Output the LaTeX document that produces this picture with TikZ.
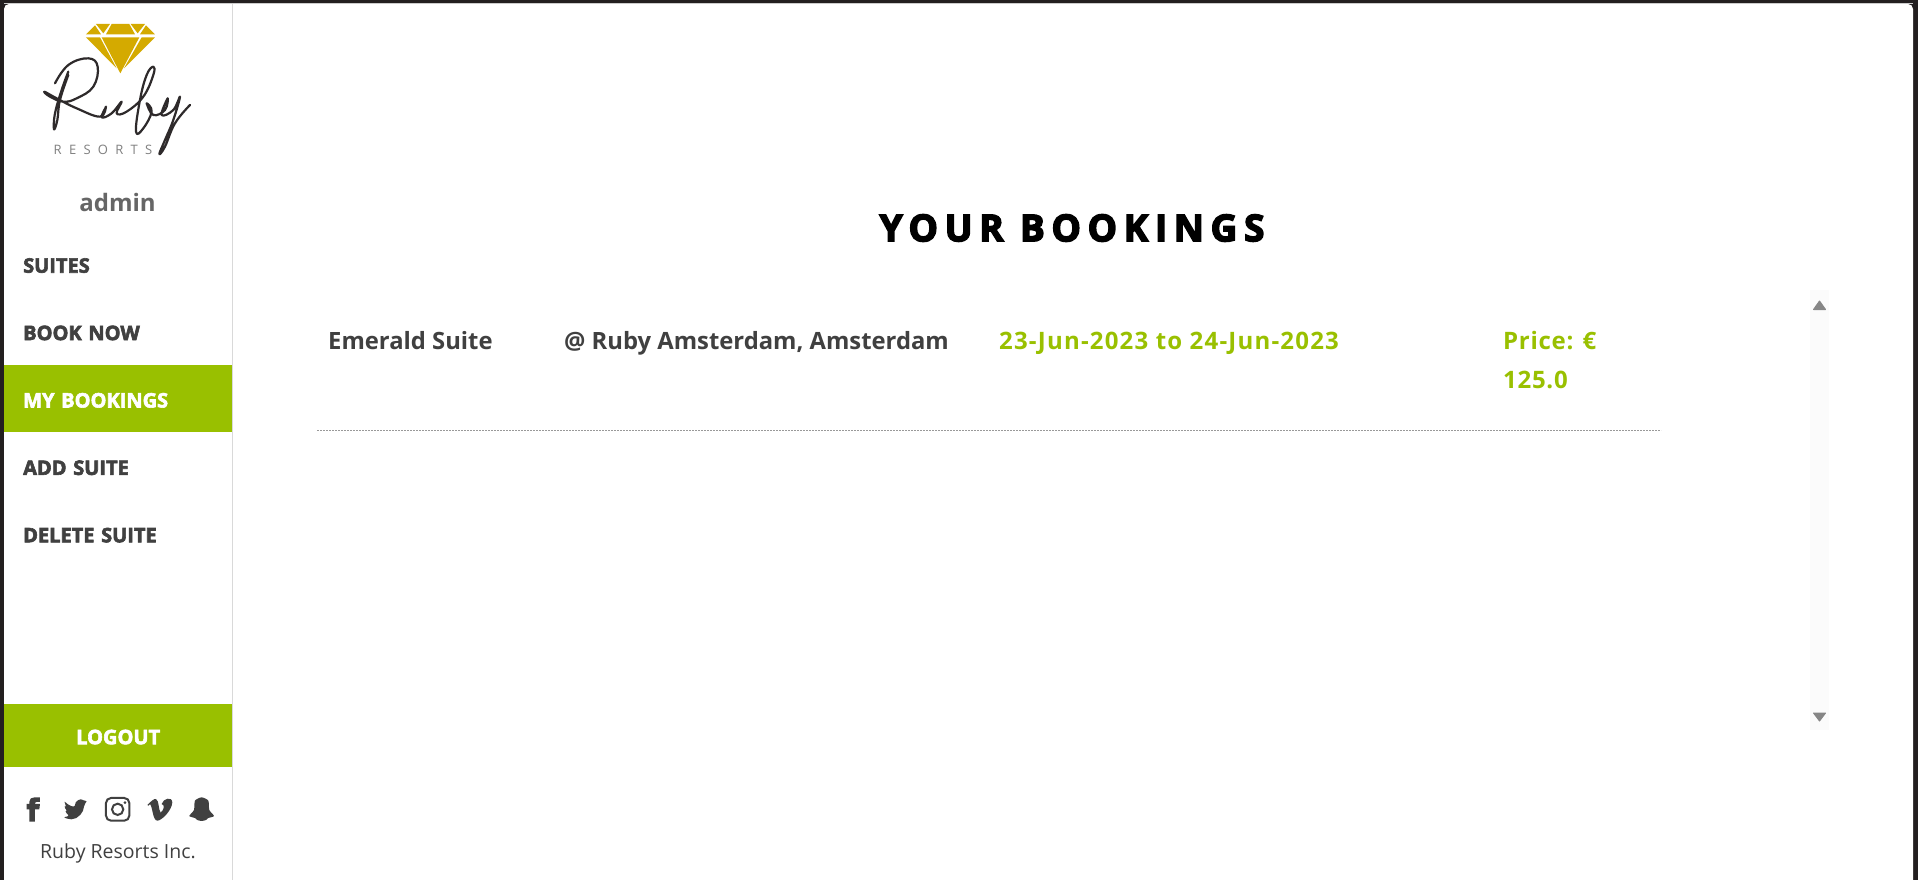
\documentclass[tikz,border=0pt]{standalone}
\usepackage{fontspec}
\usepackage{tikz}
\usetikzlibrary{positioning}
\setmainfont{Open Sans}
\newfontfamily\blackfont{Open Sans}[BoldFeatures={FakeBold=3}]
\newfontfamily\titlefont{Open Sans}[LetterSpace=18,BoldFeatures={FakeBold=4}]
\newfontfamily\spacedfont{Open Sans}[LetterSpace=56]
\newfontfamily\widefont{Open Sans}[LetterSpace=3]
\newfontfamily\datefont{Open Sans}[LetterSpace=5]
\definecolor{framedark}{RGB}{35, 31, 32}
\definecolor{accentgreen}{RGB}{153, 192, 0}
\definecolor{textdark}{RGB}{64, 64, 64}
\definecolor{diamondgold}{RGB}{212, 170, 0}

\begin{document}
\begin{tikzpicture}[
            x=1pt, y=-1pt,
            navitem/.style={minimum width=228pt, minimum height=67pt, inner xsep=19pt, inner ysep=0pt, text width=190pt, align=left, text height=19pt, text depth=0pt, text=textdark, font=\blackfont\bfseries\fontsize{20}{22}\selectfont},
            rowtext/.style={anchor=west, inner sep=0pt, text=textdark, text height=17pt, text depth=5pt, font=\bfseries\fontsize{23.8}{26}\selectfont},
            greentext/.style={rowtext, text=accentgreen, font=\widefont\bfseries\fontsize{24}{26}\selectfont},
            scrollarrow/.style={fill=gray!95, draw=gray!95, line width=1pt, line join=round},
            rubyline/.style={draw=framedark!95, line width=2.2pt, line cap=round, line join=round}
        ]
            \useasboundingbox (0,0) rectangle (1918,880);
            \fill[framedark] (0,0) rectangle (1918,880);
            \fill[white, rounded corners=5pt] (4,4) rectangle (1913,890);
            \draw[gray!40] (4,3.5) -- (1913,3.5);
            \draw[gray!30, line width=1.5pt] (232.5,4) -- (232.5,880);

            % logo
            \begin{scope}[x=0.3333pt, y=-0.3333pt]
                \fill[diamondgold] (258,103) -- (285,76) -- (303,103) -- cycle;
                \fill[diamondgold] (288,72) -- (330,72) -- (310,100) -- cycle;
                \fill[diamondgold] (335,72) -- (388,72) -- (405,103) -- (318,103) -- cycle;
                \fill[diamondgold] (392,72) -- (435,72) -- (413,100) -- cycle;
                \fill[diamondgold] (420,103) -- (438,76) -- (465,103) -- cycle;
                \fill[diamondgold] (258,112) -- (300,112) -- (350,205) -- cycle;
                \fill[diamondgold] (305,112) -- (418,112) -- (361,220) -- cycle;
                \fill[diamondgold] (425,112) -- (465,112) -- (372,205) -- cycle;
                \draw[rubyline] plot[smooth, tension=0.7] coordinates {(205,215) (185,270) (165,340) (162,388) (172,360) (180,300) (205,225)};
                \draw[rubyline] plot[smooth, tension=0.7] coordinates {(165,250) (205,195) (265,175) (293,200) (280,260) (230,295) (190,305) (150,290) (133,275) (170,295) (230,325) (300,350) (318,320) (305,352) (335,340) (365,305) (350,340) (380,335) (430,290) (460,225) (460,200) (440,225) (420,300) (408,395) (430,385) (455,335) (440,310) (460,345) (495,330) (503,295) (485,345) (520,330) (540,290) (520,360) (495,420) (478,462) (495,440) (525,370) (570,315)};
            \end{scope}
            \node[anchor=center, inner sep=0pt, text=gray, font=\spacedfont\fontsize{13}{14}\selectfont] (resorts) at (103,149.5) {RESORTS};
            \node[inner sep=0pt, text=textdark!80, font=\bfseries\fontsize{24}{28}\selectfont] (user) at (117.5,202) {admin};

            % side menu
            \node[navitem, anchor=north west] (suites) at (4,229.5) {SUITES};
            \node[navitem, below=0pt of suites] (booknow) {BOOK NOW};
            \node[navitem, below=0pt of booknow, fill=accentgreen, text=white] (mybookings) {MY BOOKINGS};
            \node[navitem, below=0pt of mybookings] (addsuite) {ADD SUITE};
            \node[navitem, below=0pt of addsuite] (deletesuite) {DELETE SUITE};
            \node[navitem, anchor=north west, minimum height=63pt, fill=accentgreen, text=white, align=center, text height=17pt] (logout) at (4,704) {LOGOUT};

            % social icons
            \begin{scope}[x=0.3333pt, y=-0.3333pt, yshift=-690pt]
                \fill[textdark] (88,395) -- (88,358) -- (80,358) -- (80,342) -- (88,342) -- (88,335) .. controls (88,326) and (95,322) .. (104,322) -- (120,322) -- (120,336) -- (110,336) .. controls (106,336) and (105,338) .. (105,342) -- (120,342) -- (118,358) -- (105,358) -- (105,395) -- cycle;
                \fill[textdark, rounded corners=2pt] (262,333) -- (252,344) .. controls (252,365) and (235,388) .. (208,388) -- (190,382) -- (208,378) -- (195,365) -- (202,364) -- (192,350) -- (199,351) -- (192,332) .. controls (202,343) and (213,349) .. (226,350) .. controls (224,335) and (242,322) .. (254,335) -- cycle;
                \draw[textdark, line width=2pt, rounded corners=5pt] (318,324) rectangle (388,392);
                \draw[textdark, line width=2pt] (353,358) circle (17);
                \fill[textdark] (375,338) circle (4.5);
                \fill[textdark] (442,345) .. controls (452,335) and (462,325) .. (468,327) .. controls (478,332) and (475,360) .. (482,368) .. controls (490,362) and (497,345) .. (485,342) .. controls (490,325) and (517,318) .. (517,338) .. controls (515,362) and (485,392) .. (472,392) .. controls (458,392) and (458,350) .. (450,342) -- (446,347) -- cycle;
                \fill[textdark] plot[smooth cycle, tension=0.4] coordinates {(605,322) (625,332) (628,360) (642,378) (625,384) (618,390) (605,393) (592,390) (585,384) (568,378) (582,360) (585,332)};
            \end{scope}
            \node[inner sep=0pt, text=textdark, font=\fontsize{19.5}{24}\selectfont] (company) at (118,853) {Ruby Resorts Inc.};

            % bookings
            \node[inner sep=0pt, text=black, font=\titlefont\bfseries\fontsize{37}{44}\selectfont] (title) at (1072,228) {YOUR BOOKINGS};
            \node[rowtext] (suitename) at (328,343.5) {Emerald Suite};
            \node[rowtext] (hotel) at (564,343.5) {@ Ruby Amsterdam, Amsterdam};
            \node[greentext, font=\datefont\bfseries\fontsize{24}{26}\selectfont] (dates) at (999,343.5) {23-Jun-2023 to 24-Jun-2023};
            \node[greentext] (price) at (1503,343.5) {Price: €};
            \node[greentext, below=17pt of price.south west, anchor=north west] (amount) {125.0};
            \coordinate (lineleft) at (317,430.5);
            \coordinate (lineright) at (1661,430.5);
            \draw[gray!80, dash pattern=on 2pt off 1pt, line width=0.7pt] (lineleft) -- (lineright);

            % scrollbar
            \fill[gray!3] (1810,290) rectangle (1829,730);
            \fill[scrollarrow] (1813.5,309.5) -- (1825.5,309.5) -- (1819.5,301) -- cycle;
            \fill[scrollarrow] (1813.5,713) -- (1825.5,713) -- (1819.5,721) -- cycle;
        \end{tikzpicture}
\end{document}
